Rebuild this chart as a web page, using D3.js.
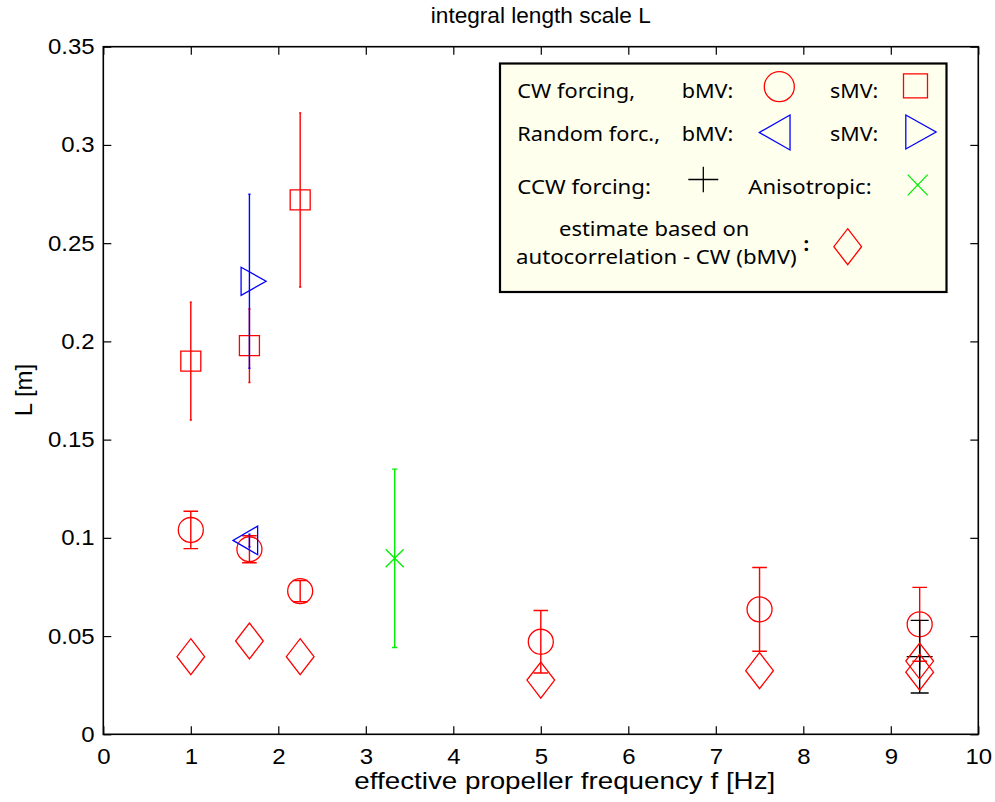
<!DOCTYPE html>
<html>
<head>
<meta charset="utf-8">
<script src="https://cdn.jsdelivr.net/npm/d3@7"></script>
<style>
  html, body { margin: 0; padding: 0; background: #fff; }
  svg { display: block; }
  .axis text { font-family: "Liberation Sans", Arial, sans-serif; font-size: 22px; fill: #000; }
  .lbl { font-family: "Liberation Sans", Arial, sans-serif; fill: #000; }
  .leg { font-family: "Noto Sans", "Open Sans", sans-serif; font-size: 20px; fill: #000; }
</style>
</head>
<body>
<svg id="chart" width="995" height="802"></svg>
<script>
// ---- data: integral length scale L [m] vs effective propeller frequency f [Hz]
const xTicks = [0, 1, 2, 3, 4, 5, 6, 7, 8, 9, 10];
const yTicks = [0, 0.05, 0.1, 0.15, 0.2, 0.25, 0.3, 0.35];
const yTickLabels = ["0", "0.05", "0.1", "0.15", "0.2", "0.25", "0.3", "0.35"];

// CW forcing, bMV (circles)
const fCwBmv   = [1, 1.67, 2.25, 5, 7.5, 9.33];
const cwBmv    = [0.104, 0.0942, 0.0729, 0.0471, 0.0636, 0.056];
const cwBmvErr = [0.0095, 0.0069, 0.0054, 0.0159, 0.0213, 0.0188];

// CW forcing, sMV (squares)
const fCwSmv   = [1, 1.67, 2.25];
const cwSmv    = [0.19, 0.1978, 0.272];
const cwSmvErr = [0.03, 0.0187, 0.0443];

// Random forcing, bMV (left triangle) and sMV (right triangle)
const fRand      = [1.67];
const randBmv    = [0.0987];
const randBmvErr = [0.0032];
const randSmv    = [0.2306];
const randSmvErr = [0.0443];

// CCW forcing (plus)
const fCcw   = [9.33];
const ccw    = [0.0395];
const ccwErr = [0.0185];

// Anisotropic (cross)
const fAniso   = [3.33];
const aniso    = [0.0896];
const anisoErr = [0.0454];

// estimate based on autocorrelation - CW (bMV) (diamonds)
const fAuto = [1, 1.67, 2.25, 5, 7.5, 9.33, 9.33];
const auto  = [0.0395, 0.0475, 0.0395, 0.0276, 0.0324, 0.0373, 0.0316];

// ---- layout
const svg = d3.select("#chart");
const L = 103.3, R = 978.3, T = 46.7, B = 734.3;
const x = d3.scaleLinear().domain([0, 10]).range([L, R]);
const y = d3.scaleLinear().domain([0, 0.35]).range([B, T]);
const SX = 1.09; // horizontal stretch of the axis lettering

// ---- marker path builders (centred on 0,0)
const sym = {
  circle: r => `M${r},0A${r},${r} 0 1,1 ${-r},0A${r},${r} 0 1,1 ${r},0Z`,
  square: s => `M${-s/2},${-s/2}H${s/2}V${s/2}H${-s/2}Z`,
  triRight: (w, h) => `M${-w/3},${-h/2}L${2*w/3},0L${-w/3},${h/2}Z`,
  triLeft: (w, h) => `M${w/3},${-h/2}L${-2*w/3},0L${w/3},${h/2}Z`,
  diamond: (w, h) => `M0,${-h/2}L${w/2},0L0,${h/2}L${-w/2},0Z`,
  plus: (w, h) => `M${-w/2},0H${w/2}M0,${-h/2}V${h/2}`,
  cross: (w, h) => `M${-w/2},${-h/2}L${w/2},${h/2}M${-w/2},${h/2}L${w/2},${-h/2}`
};

const plot = svg.append("g");

function errorbars(xs, ys, es, color, cap) {
  const g = plot.append("g").attr("stroke", color).attr("stroke-width", 1.4).attr("fill", "none");
  xs.forEach((xv, i) => {
    const px = x(xv), top = y(ys[i] + es[i]), bot = y(ys[i] - es[i]);
    g.append("path").attr("d",
      `M${px},${top}V${bot}M${px - cap},${top}H${px + cap}M${px - cap},${bot}H${px + cap}`);
  });
}
function markers(xs, ys, d, color) {
  plot.append("g").selectAll("path").data(xs).join("path")
    .attr("transform", (xv, i) => `translate(${x(xv)},${y(ys[i])})`)
    .attr("d", d).attr("fill", "none").attr("stroke", color).attr("stroke-width", 1.3);
}

const RED = "#ff0000", BLUE = "#0000ff", GREEN = "#00ee00", BLACK = "#000";

// CW bMV
errorbars(fCwBmv, cwBmv, cwBmvErr, RED, 7.3);
markers(fCwBmv, cwBmv, sym.circle(12.5), RED);
// CW sMV
errorbars(fCwSmv, cwSmv, cwSmvErr, RED, 1.1);
markers(fCwSmv, cwSmv, sym.square(20), RED);
// Random bMV / sMV
errorbars(fRand, randBmv, randBmvErr, BLUE, 1.1);
markers(fRand, randBmv, sym.triLeft(24.6, 28.6), BLUE);
errorbars(fRand, randSmv, randSmvErr, BLUE, 1.1);
markers(fRand, randSmv, sym.triRight(25, 28), BLUE);
// Anisotropic
errorbars(fAniso, aniso, anisoErr, GREEN, 2.6);
markers(fAniso, aniso, sym.cross(18, 18), GREEN);
// CCW
errorbars(fCcw, ccw, ccwErr, BLACK, 9);
markers(fCcw, ccw, sym.plus(26, 26), BLACK);
// autocorrelation estimate
markers(fAuto, auto, sym.diamond(27.7, 36), RED);

// ---- axes (ticks inward on all four sides)
const ax = svg.append("g").attr("class", "axis");
ax.append("g").attr("transform", `translate(0,${B})`)
  .call(d3.axisBottom(x).tickValues(xTicks).tickFormat(d3.format("d"))
    .tickSizeInner(-8).tickSizeOuter(0).tickPadding(14))
  .call(g => g.selectAll("text").attr("transform", `scale(${SX},1)`));
ax.append("g").attr("transform", `translate(0,${T})`)
  .call(d3.axisTop(x).tickValues(xTicks).tickFormat("").tickSizeInner(-8).tickSizeOuter(0));
ax.append("g").attr("transform", `translate(${L},0)`)
  .call(d3.axisLeft(y).tickValues(yTicks).tickFormat((d, i) => yTickLabels[i])
    .tickSizeInner(-8).tickSizeOuter(0).tickPadding(8))
  .call(g => g.selectAll("text").attr("transform", `scale(${SX},1)`));
ax.append("g").attr("transform", `translate(${R},0)`)
  .call(d3.axisRight(y).tickValues(yTicks).tickFormat("").tickSizeInner(-8).tickSizeOuter(0));
ax.selectAll(".domain").remove();
ax.selectAll(".tick line").attr("stroke", "#000").attr("stroke-width", 1.2);
svg.append("rect").attr("x", L).attr("y", T).attr("width", R - L).attr("height", B - T)
  .attr("fill", "none").attr("stroke", "#000").attr("stroke-width", 1.6);

// ---- title and axis labels
svg.append("text").attr("class", "lbl").attr("x", (L + R) / 2).attr("y", 23)
  .attr("text-anchor", "middle").attr("font-size", 22)
  .attr("textLength", 220).attr("lengthAdjust", "spacingAndGlyphs")
  .text("integral length scale L");
svg.append("text").attr("class", "lbl").attr("x", (L + R) / 2 + 24).attr("y", 789)
  .attr("text-anchor", "middle").attr("font-size", 24)
  .attr("textLength", 421).attr("lengthAdjust", "spacingAndGlyphs")
  .text("effective propeller frequency f [Hz]");
svg.append("text").attr("class", "lbl")
  .attr("transform", `translate(32,390) rotate(-90)`)
  .attr("text-anchor", "middle").attr("font-size", 24)
  .text("L [m]");

// ---- legend
const lg = svg.append("g");
lg.append("rect").attr("x", 500).attr("y", 63.5).attr("width", 446.5).attr("height", 228.5)
  .attr("fill", "#ffffee").attr("stroke", "#000").attr("stroke-width", 2.2);

const legText = [
  ["CW forcing,", 517.3, 98, 117.7],
  ["bMV:", 681.7, 98, 51.7],
  ["sMV:", 830, 98, 48.3],
  ["Random forc.,", 517.3, 141, 142.7],
  ["bMV:", 681.7, 141, 51.7],
  ["sMV:", 830, 141, 48.3],
  ["CCW forcing:", 517.3, 193.5, 133.7],
  ["Anisotropic:", 748.3, 193.5, 123.3],
  ["estimate based on", 559, 235.5, 190.3],
  ["autocorrelation - CW (bMV)", 516, 263.5, 280.7]
];
legText.forEach(([t, tx, ty, w]) => {
  lg.append("text").attr("class", "leg").attr("x", tx).attr("y", ty)
    .attr("textLength", w).attr("lengthAdjust", "spacingAndGlyphs").text(t);
});
lg.append("text").attr("class", "leg").attr("x", 803.5).attr("y", 251)
  .attr("font-size", 27).attr("font-weight", "bold").text(":");

const legMarks = [
  [sym.circle(15), 779.3, 86.7, RED],
  [sym.square(24), 915.5, 85.8, RED],
  [sym.triLeft(30.7, 35), 779.8, 132.5, BLUE],
  [sym.triRight(30.3, 34), 915.9, 132, BLUE],
  [sym.plus(30, 25.7), 703.3, 179.5, BLACK],
  [sym.cross(20, 20.7), 917.7, 185, GREEN],
  [sym.diamond(27.7, 36), 847.7, 246.7, RED]
];
legMarks.forEach(([d, mx, my, c]) => {
  lg.append("path").attr("d", d).attr("transform", `translate(${mx},${my})`)
    .attr("fill", "none").attr("stroke", c).attr("stroke-width", 1.3);
});
</script>
</body>
</html>
